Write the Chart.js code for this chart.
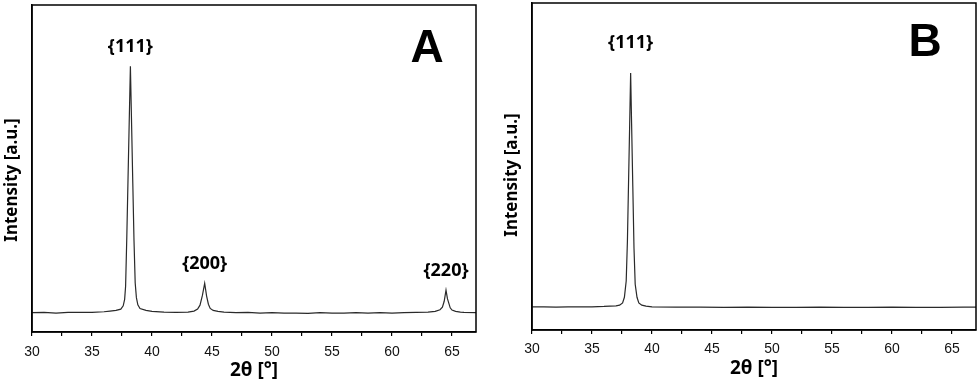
<!DOCTYPE html>
<html>
<head>
<meta charset="utf-8">
<script src="https://cdn.jsdelivr.net/npm/chart.js@4/dist/chart.umd.min.js"></script>
<style>
  body { margin: 0; background: #fff; }
  .panel { position: absolute; top: 0; width: 490px; height: 383px; }
</style>
</head>
<body>
<div class="panel" style="left:0"><canvas id="chartA" width="490" height="383"></canvas></div>
<div class="panel" style="left:490px"><canvas id="chartB" width="490" height="383"></canvas></div>
<script>
// 2θ ticks (labels only on multiples of 5)
const xTicks = [30, 32.5, 35, 37.5, 40, 42.5, 45, 47.5, 50, 52.5, 55, 57.5, 60, 62.5, 65];

// panel A
const thetaA = [30, 31, 32, 33, 34, 35, 36, 36.5, 37, 37.4, 37.6, 37.72, 37.8, 37.9, 38.0, 38.1, 38.2, 38.3, 38.4, 38.5, 38.6, 38.7, 38.82, 39.0, 39.5, 40,
  41, 42, 43, 43.5, 43.8, 44.0, 44.2, 44.39, 44.55, 44.7, 44.85, 45.1, 45.5, 46,
  47, 48, 49, 50, 51, 52, 53, 54, 55, 56, 57, 58, 59, 60, 61, 62, 63, 63.6, 64.0, 64.2, 64.35, 64.5, 64.62, 64.72, 64.85, 65.0, 65.3, 65.7, 66, 67];
const intensityA = [5.9, 6.0, 5.8, 6.0, 6.0, 6.0, 6.2, 6.4, 6.6, 7.0, 8.0, 10, 14, 29, 46.5, 64, 81.3, 63.4, 45.5, 28, 15, 10.5, 8.3, 7.2, 6.6, 6.3,
  6.1, 6.0, 6.1, 6.4, 7.0, 8.2, 11.2, 14.9, 11.0, 8.5, 7.2, 6.6, 6.3, 6.1,
  5.9, 6.0, 5.8, 5.9, 5.8, 5.8, 5.7, 5.9, 5.8, 5.8, 5.9, 5.8, 5.9, 5.8, 5.9, 6.0, 6.1, 6.3, 6.8, 7.6, 9.4, 12.8, 10.2, 9.0, 7.4, 6.7, 6.3, 6.1, 6.0, 5.9];
const peaksA = ['{111}', '{200}', '{220}'];
const peakThetaA = [38.2, 44.39, 64.5];
const peakIntensityA = [81.3, 14.9, 12.8];

// panel B
const thetaB = [30, 31, 32, 33, 34, 35, 36, 36.5, 37, 37.3, 37.55, 37.7, 37.85, 37.95, 38.05, 38.14, 38.22, 38.3, 38.4, 38.5, 38.6, 38.75, 38.9, 39.15, 39.5, 40,
  42, 44, 46, 48, 50, 52, 54, 56, 58, 60, 62, 64, 66, 67];
const intensityB = [7.1, 7.1, 7.0, 7.1, 7.1, 7.1, 7.2, 7.3, 7.4, 7.6, 8.3, 10.0, 15, 27, 46, 63, 78.6, 63, 44, 25, 14, 10, 8.3, 7.6, 7.3, 7.1,
  7.0, 7.0, 6.9, 7.0, 6.9, 6.9, 7.0, 6.9, 6.9, 7.0, 6.9, 6.9, 7.0, 7.0];
const peaksB = ['{111}'];
const peakThetaB = [38.22];
const peakIntensityB = [78.6];

const frame = {
  id: 'frame',
  afterDraw(chart) {
    const { ctx, chartArea: a } = chart;
    ctx.save();
    ctx.strokeStyle = '#000';
    ctx.lineWidth = 1.5;
    ctx.strokeRect(a.left, a.top, a.right - a.left, a.bottom - a.top);
    ctx.restore();
  }
};

const annotate = {
  id: 'annotate',
  afterDatasetsDraw(chart, args, opts) {
    const { ctx, chartArea: a } = chart;
    const xs = chart.scales.x, ys = chart.scales.y;
    ctx.save();
    ctx.fillStyle = '#000';
    ctx.textAlign = 'center';
    ctx.textBaseline = 'middle';
    ctx.font = 'bold 18px "Noto Sans"';
    opts.labels.forEach((t, i) => {
      ctx.fillText(t, xs.getPixelForValue(opts.at[i]), ys.getPixelForValue(opts.height[i]) - opts.gap);
    });
    ctx.font = 'bold 46px "Liberation Sans"';
    ctx.fillText(opts.letter, a.right - opts.letterDx, a.top + opts.letterDy);
    // y axis title, sits a bit below the plot centre like the original
    ctx.translate(opts.titleX, opts.titleY);
    ctx.rotate(-Math.PI / 2);
    ctx.font = 'bold 17px "Noto Sans"';
    ctx.fillText('Intensity [a.u.]', 0, 0);
    ctx.restore();
  }
};

function makeChart(id, xs, ys, ann, pad, leftW, tickPad) {
  return new Chart(document.getElementById(id), {
    type: 'line',
    data: {
      datasets: [{
        data: xs.map((x, i) => ({ x: x, y: ys[i] })),
        borderColor: '#2a2a2a',
        borderWidth: 1.2,
        pointRadius: 0,
        tension: 0
      }]
    },
    options: {
      responsive: false,
      animation: false,
      layout: { padding: pad },
      plugins: { legend: { display: false }, tooltip: { enabled: false }, annotate: ann },
      scales: {
        x: {
          type: 'linear', min: 30, max: 67,
          afterBuildTicks: s => { s.ticks = xTicks.map(v => ({ value: v })); },
          afterFit: s => { s.height = 51; },
          grid: { drawOnChartArea: false, tickLength: 4, color: '#000', lineWidth: 1.2 },
          border: { color: '#000', width: 1.5 },
          ticks: {
            autoSkip: false, maxRotation: 0, padding: tickPad, color: '#111',
            font: { family: 'Liberation Sans', size: 14 },
            callback: v => (v % 5 === 0 ? v : '')
          },
          title: { display: true, text: '2θ [°]', color: '#000', font: { family: 'Noto Sans', size: 19, weight: 'bold' }, padding: { top: 0, bottom: 1 } }
        },
        y: {
          min: 0, max: 100,
          afterFit: s => { s.width = leftW; },
          ticks: { display: false },
          grid: { display: false },
          border: { display: true, color: '#000', width: 1.5 }
        }
      }
    },
    plugins: [frame, annotate]
  });
}

makeChart('chartA', thetaA, intensityA,
  { labels: peaksA, at: peakThetaA, height: peakIntensityA, gap: 19, letter: 'A', letterDx: 49, letterDy: 44, titleX: 12, titleY: 180 },
  { top: 5, right: 14, left: 0, bottom: 0 }, 32, 8);

makeChart('chartB', thetaB, intensityB,
  { labels: peaksB, at: peakThetaB, height: peakIntensityB, gap: 30, letter: 'B', letterDx: 51, letterDy: 40, titleX: 22, titleY: 175 },
  { top: 3, right: 4, left: 0, bottom: 2 }, 42, 7);
</script>
</body>
</html>
